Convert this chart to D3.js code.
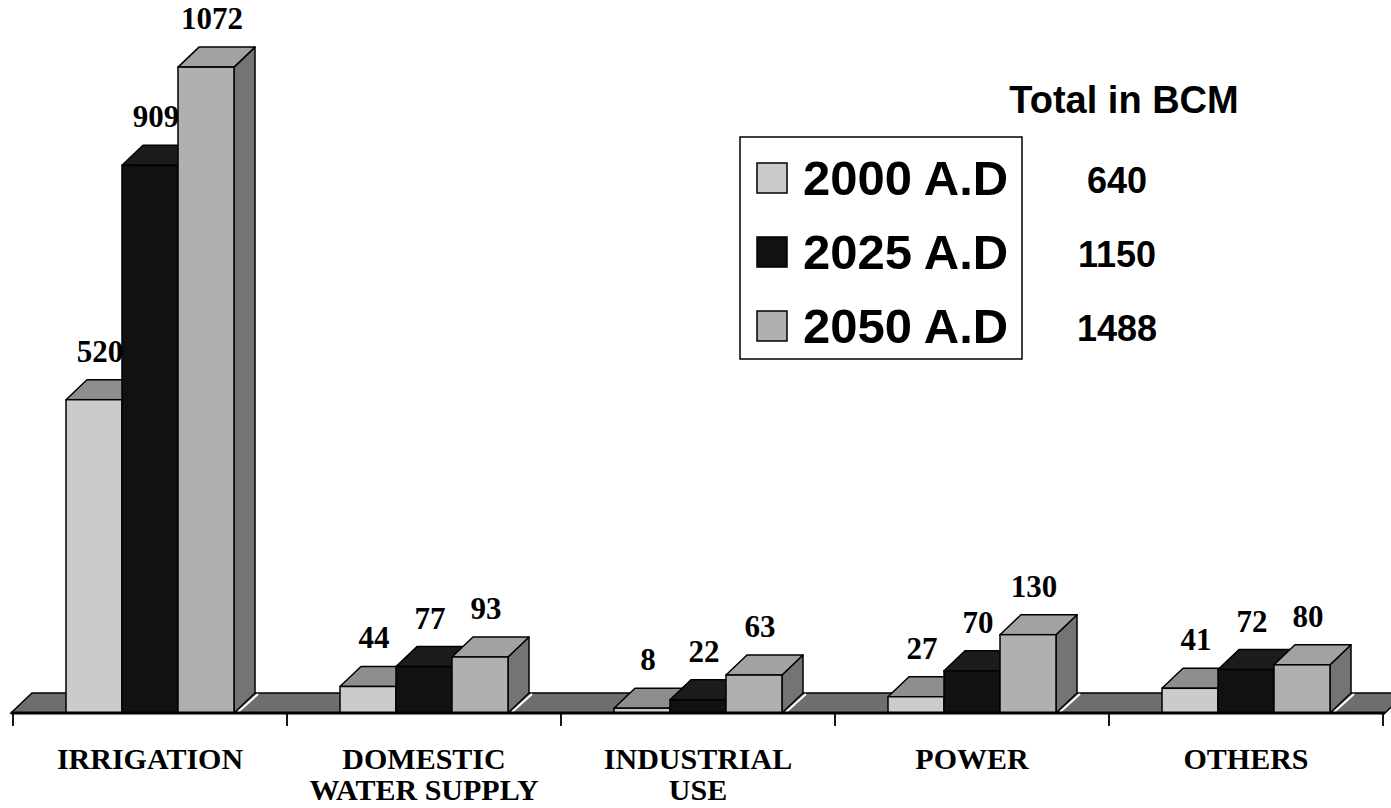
<!DOCTYPE html>
<html>
<head>
<meta charset="utf-8">
<script src="https://cdn.jsdelivr.net/npm/d3@7"></script>
<style>
  html, body { margin: 0; padding: 0; background: #fff; }
  svg { display: block; }
</style>
</head>
<body>
<svg id="chart" width="1391" height="808"></svg>
<script>
// ---- data ----
const categories = ["IRRIGATION", "DOMESTIC WATER SUPPLY", "INDUSTRIAL USE", "POWER", "OTHERS"];
const categoryLines = [["IRRIGATION"], ["DOMESTIC", "WATER SUPPLY"], ["INDUSTRIAL", "USE"], ["POWER"], ["OTHERS"]];
const series = ["2000 A.D", "2025 A.D", "2050 A.D"];
const values2000 = [520, 44, 8, 27, 41];
const values2025 = [909, 77, 22, 70, 72];
const values2050 = [1072, 93, 63, 130, 80];
const totalsTitle = "Total in BCM";
const totals = [640, 1150, 1488];

const seriesValues = [values2000, values2025, values2050];

// ---- styles ----
const faceFront = ["#cbcbcb", "#111111", "#b0b0b0"];
const faceTop   = ["#8e8e8e", "#1c1c1c", "#a2a2a2"];
const faceSide  = ["#7a7a7a", "#0e0e0e", "#747474"];
const floorFill = "#6e6e6e";

const svg = d3.select("#chart");
const DX = 21, DY = -20;          // depth offset
const baseY = 713;

const x = d3.scaleBand().domain(categories).range([13, 1383]);
const xs = d3.scaleBand().domain(series).range([53, 221]);
const y = d3.scaleLinear().domain([0, 1200]).range([baseY, baseY - 1200 * 0.6025]);

// ---- floor ----
const x0 = x.range()[0], x1 = x.range()[1];
svg.append("path")
  .attr("d", d3.line()([[x0 - 2, baseY], [x1 + 2, baseY], [x1 + 2 + DX, baseY + DY], [x0 - 2 + DX, baseY + DY]]) + "Z")
  .attr("fill", floorFill).attr("stroke", "#000").attr("stroke-width", 1.5);

// ---- bars ----
const poly = pts => d3.line()(pts) + "Z";
categories.forEach((cat, ci) => {
  series.forEach((s, si) => {
    const v = seriesValues[si][ci];
    const l = x(cat) + xs(s), r = l + xs.bandwidth();
    const t = y(v), b = y(0);
    const g = svg.append("g");
    // side face
    g.append("path").attr("d", poly([[r, b], [r + DX, b + DY], [r + DX, t + DY], [r, t]]))
      .attr("fill", faceSide[si]).attr("stroke", "#000").attr("stroke-width", 1.5).attr("stroke-linejoin", "round");
    // highlight along the bottom edge of the side face
    if (si === series.length - 1) {
      g.append("line").attr("x1", r + 4).attr("y1", b - 1).attr("x2", r + DX + 3).attr("y2", b + DY + 1)
        .attr("stroke", "#fff").attr("stroke-width", 2);
    }
    // top face
    g.append("path").attr("d", poly([[l, t], [r, t], [r + DX, t + DY], [l + DX, t + DY]]))
      .attr("fill", faceTop[si]).attr("stroke", "#000").attr("stroke-width", 1.5).attr("stroke-linejoin", "round");
    // front face
    g.append("rect").attr("x", l).attr("y", t).attr("width", r - l).attr("height", b - t)
      .attr("fill", faceFront[si]).attr("stroke", "#000").attr("stroke-width", 1.5);
    // value label (drawn with its bar, so the next bar may overlap it)
    svg.append("text")
      .attr("x", (l + r) / 2 + 6).attr("y", t - 38)
      .attr("text-anchor", "middle")
      .attr("font-family", "'Liberation Serif', 'Times New Roman', serif")
      .attr("font-weight", "bold").attr("font-size", 31)
      .attr("fill", "#000")
      .text(v);
  });
});

// ---- axis (front edge + ticks at band boundaries) ----
svg.append("line").attr("x1", x0 - 2).attr("y1", baseY).attr("x2", x1 + 2).attr("y2", baseY)
  .attr("stroke", "#000").attr("stroke-width", 3);
const tickXs = categories.map(c => x(c)).concat([x1]);
svg.selectAll(".tick").data(tickXs).enter().append("line")
  .attr("x1", d => d).attr("x2", d => d).attr("y1", baseY).attr("y2", baseY + 13)
  .attr("stroke", "#000").attr("stroke-width", 1.8);

// category labels
categories.forEach((cat, ci) => {
  const t = svg.append("text")
    .attr("text-anchor", "middle")
    .attr("font-family", "'Liberation Serif', 'Times New Roman', serif")
    .attr("font-weight", "bold").attr("font-size", 30).attr("fill", "#000");
  categoryLines[ci].forEach((line, li) => {
    t.append("tspan").attr("x", x(cat) + x.bandwidth() / 2).attr("y", 769 + li * 31).text(line);
  });
});

// ---- legend ----
const legend = svg.append("g");
legend.append("rect").attr("x", 740).attr("y", 137).attr("width", 282).attr("height", 222)
  .attr("fill", "#fff").attr("stroke", "#000").attr("stroke-width", 1.5);
series.forEach((s, si) => {
  const by = 195 + si * 74;
  legend.append("rect").attr("x", 757).attr("y", by - 32).attr("width", 30).attr("height", 30)
    .attr("fill", faceFront[si]).attr("stroke", "#000").attr("stroke-width", 1.5);
  legend.append("text").attr("x", 803).attr("y", by)
    .attr("font-family", "'Liberation Sans', Arial, sans-serif")
    .attr("font-weight", "bold").attr("font-size", 49).attr("fill", "#000")
    .text(s);
  svg.append("text").attr("x", 1117).attr("y", by - 2)
    .attr("text-anchor", "middle")
    .attr("font-family", "'Liberation Sans', Arial, sans-serif")
    .attr("font-weight", "bold").attr("font-size", 36).attr("fill", "#000")
    .text(totals[si]);
});
svg.append("text").attr("x", 1124).attr("y", 113)
  .attr("text-anchor", "middle")
  .attr("font-family", "'Liberation Sans', Arial, sans-serif")
  .attr("font-weight", "bold").attr("font-size", 38).attr("fill", "#000")
  .text(totalsTitle);
</script>
</body>
</html>
